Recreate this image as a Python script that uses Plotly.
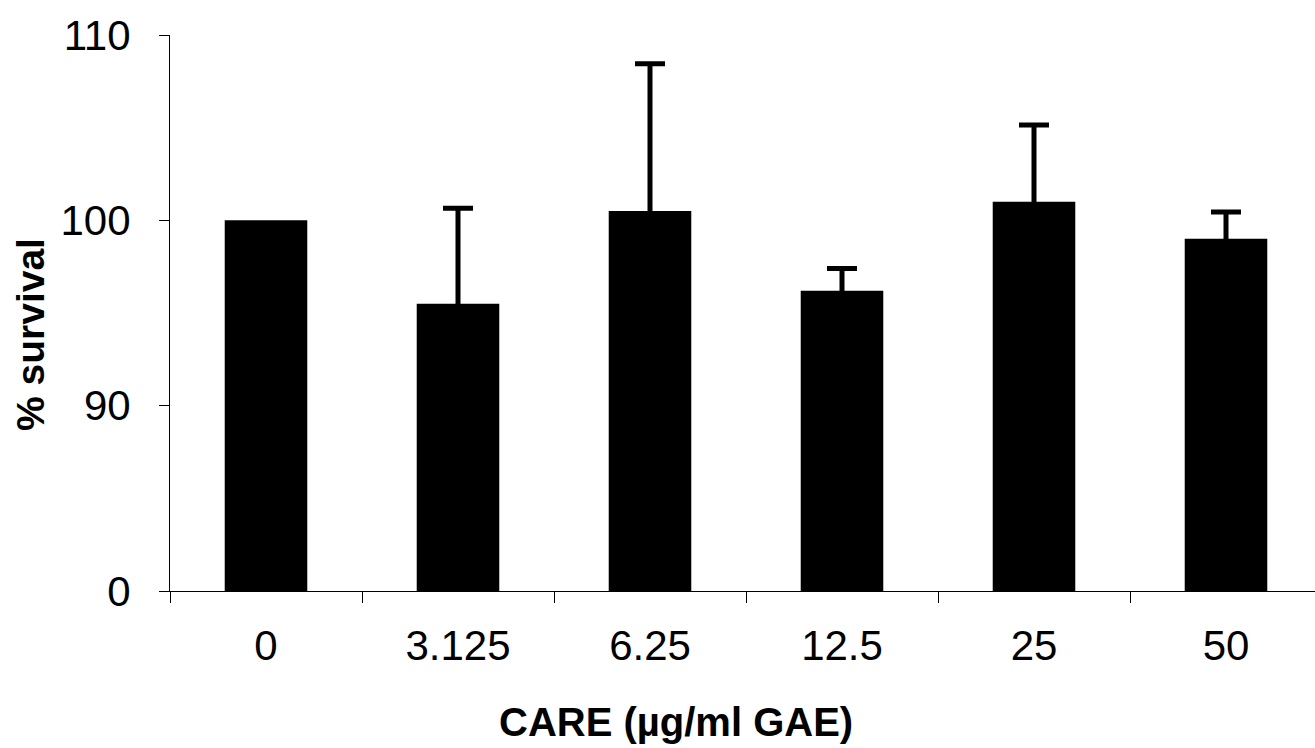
import plotly.graph_objects as go

categories = ["0", "3.125", "6.25", "12.5", "25", "50"]
survival = [100.0, 95.5, 100.5, 96.2, 101.0, 99.0]
sd = [0.0, 5.15, 7.95, 1.2, 4.15, 1.45]

y_tick_values = [0, 90, 100, 110]
y_tick_labels = ["0", "90", "100", "110"]


def brk(v):
    # broken axis: 0-90 compressed into one tick interval, 90-110 linear
    return v / 9.0 if v < 90 else v - 80.0


y_t = [brk(v) for v in survival]
tick_t = [brk(v) for v in y_tick_values]

# error bars only where a deviation exists; bottom end hidden inside the bar
err_x = [c for c, s in zip(categories, sd) if s > 0]
err_y = [t for t, s in zip(y_t, sd) if s > 0]
err_up = [s for s in sd if s > 0]
err_down = [0.4] * len(err_up)

FONT = "Liberation Sans, Arial, sans-serif"

W, H = 1315, 748
L, T = 170, 35
B = 748 - 591

fig = go.Figure()
fig.add_trace(go.Bar(
    x=categories,
    y=y_t,
    width=0.43,
    marker=dict(color="black", line=dict(width=0)),
    showlegend=False,
    hoverinfo="skip",
))
fig.add_trace(go.Scatter(
    x=err_x, y=err_y, mode="markers",
    marker=dict(size=1, color="rgba(0,0,0,0)"),
    error_y=dict(type="data", array=err_up, arrayminus=err_down,
                 symmetric=False, color="black", thickness=5, width=15),
    showlegend=False,
))

fig.update_layout(
    width=W, height=H,
    margin=dict(l=L, r=0, t=T, b=B),
    plot_bgcolor="white", paper_bgcolor="white",
    font=dict(family=FONT, size=40, color="black"),
    xaxis=dict(
        type="category",
        categoryorder="array", categoryarray=categories,
        range=[-0.5, -0.5 + (1315 - 170) / 192.0],
        showline=True, linecolor="black", linewidth=1,
        ticks="outside", ticklen=11, tickcolor="black", tickwidth=1,
        tickson="boundaries",
        ticklabelstandoff=18,
        showgrid=False, zeroline=False,
        tickfont=dict(size=42),
    ),
    yaxis=dict(
        range=[0, 30],
        tickvals=tick_t, ticktext=y_tick_labels,
        showline=True, linecolor="black", linewidth=1,
        ticks="outside", ticklen=10, tickcolor="black", tickwidth=1,
        ticklabelstandoff=20,
        showgrid=False, zeroline=False,
        tickfont=dict(size=42),
    ),
    annotations=[
        dict(text="<b>CARE (µg/ml GAE)</b>", xref="paper", yref="paper",
             x=(676 - 170) / (1315 - 170), y=-(722 - 591) / (591 - 35),
             showarrow=False, xanchor="center", yanchor="middle",
             font=dict(size=40)),
        dict(text="<b>% survival</b>", xref="paper", yref="paper",
             x=-(170 - 30) / (1315 - 170), y=(591 - 335) / (591 - 35),
             showarrow=False, textangle=-90, xanchor="center",
             yanchor="middle", font=dict(size=39)),
    ],
)

fig.write_html(
    "out.html",
    config={"displayModeBar": False},
    post_script="document.body.style.margin='0';"
                "document.body.style.overflow='hidden';",
)
